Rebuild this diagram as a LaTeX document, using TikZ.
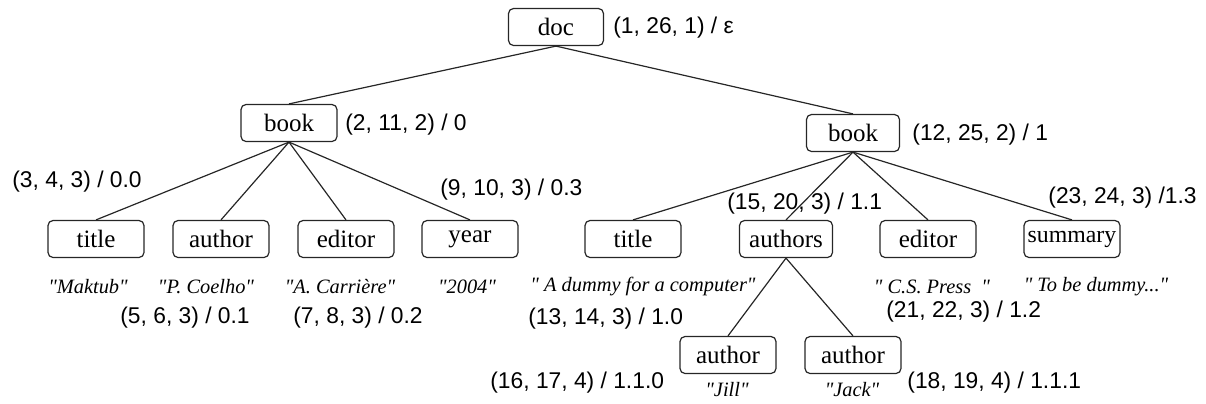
\documentclass[tikz,border=0pt]{standalone}
\usepackage{fontspec}
\setmainfont{Liberation Serif}
\newfontfamily\labfont{Liberation Sans}
\newfontfamily\valfont{Liberation Serif}
\begin{document}
\begin{tikzpicture}[x=0.5pt,y=-0.5pt,
  box/.style={draw=black!85, rounded corners=2.5pt, line width=0.6pt, minimum width=48pt, minimum height=18.5pt, inner sep=1pt, font=\fontsize{12.5}{14}\selectfont},
  lab/.style={anchor=west, inner sep=0pt, font=\labfont\fontsize{11.4}{13}\selectfont},
  val/.style={inner sep=0pt, font=\valfont\fontsize{10.2}{12}\selectfont\itshape},
  edge/.style={draw=black!85, line width=0.6pt}]
\useasboundingbox (0,0) rectangle (1206,403);
% nodes
\node[box, minimum width=47.5pt] (doc) at (556,27) {doc};
\node[box] (bookL) at (289,123) {book};
\node[box, minimum width=46.5pt] (bookR) at (853,133) {book};
\node[box] (titleL) at (96,239) {title};
\node[box] (authorL) at (221,239) {author};
\node[box] (editorL) at (346,239) {editor};
\node[box] (year) at (470,239) {year};
\node[box] (titleR) at (633,239) {title};
\node[box, minimum width=46.5pt] (authors) at (786,239) {authors};
\node[box] (editorR) at (928,239) {editor};
\node[box, inner sep=0.5pt, font=\fontsize{11.9}{14}\selectfont] (summary) at (1072,239) {summary};
\node[box] (jill) at (728,355) {author};
\node[box] (jack) at (853,355) {author};
% edges
\draw[edge] (doc.south) -- (bookL.north);
\draw[edge] (doc.south) -- (bookR.north);
\foreach \c in {titleL,authorL,editorL,year} \draw[edge] (bookL.south) -- (\c.north);
\foreach \c in {titleR,authors,editorR,summary} \draw[edge] (bookR.south) -- (\c.north);
\draw[edge] (authors.south) -- (jill.north);
\draw[edge] (authors.south) -- (jack.north);
% labels
\node[lab] (ldoc) at (613,28) {(1, 26, 1) / ε};
\node[lab] (lbookL) at (345,125) {(2, 11, 2) / 0};
\node[lab] (lbookR) at (912,135) {(12, 25, 2) / 1};
\node[lab] (ltitleL) at (12,182) {(3, 4, 3) / 0.0};
\node[lab] (lyear) at (440,190) {(9, 10, 3) / 0.3};
\node[lab] (lauthors) at (727,204) {(15, 20, 3) / 1.1};
\node[lab] (lsummary) at (1048,198) {(23, 24, 3) /1.3};
\node[lab] (lauthorL) at (120,318) {(5, 6, 3) / 0.1};
\node[lab] (leditorL) at (293,318) {(7, 8, 3) / 0.2};
\node[lab] (ltitleR) at (528,319) {(13, 14, 3) / 1.0};
\node[lab] (leditorR) at (886,312) {(21, 22, 3) / 1.2};
\node[lab] (ljill) at (490,383) {(16, 17, 4) / 1.1.0};
\node[lab] (ljack) at (907,383) {(18, 19, 4) / 1.1.1};
% values
\node[val] (v1) at (88,287) {"Maktub"};
\node[val] (v2) at (206,287) {"P. Coelho"};
\node[val] (v3) at (340,287) {"A. Carrière"};
\node[val] (v4) at (467,287) {"2004"};
\node[val] (v5) at (643,287) {"\ A dummy for a computer"};
\node[val] (v6) at (932,287) {"\ C.S. Press\ \ "};
\node[val] (v7) at (1096,287) {"\ To be dummy..."};
\node[val] (v8) at (727,390) {"Jill"};
\node[val] (v9) at (852,390) {"Jack"};
\end{tikzpicture}
\end{document}
